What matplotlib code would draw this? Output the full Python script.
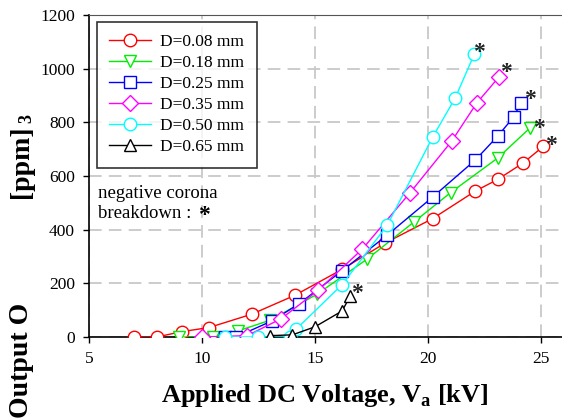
import matplotlib
matplotlib.use("Agg")
import matplotlib.pyplot as plt

plt.rcParams['font.family'] = ['Liberation Serif', 'DejaVu Serif']
plt.rcParams['mathtext.fontset'] = 'custom'
plt.rcParams['mathtext.rm'] = 'Liberation Serif'
plt.rcParams['mathtext.bf'] = 'Liberation Serif:bold'

labels = ["D=0.08 mm", "D=0.18 mm", "D=0.25 mm", "D=0.35 mm", "D=0.50 mm", "D=0.65 mm"]

v_008 = [7.0, 8.0, 9.1, 10.3, 12.2, 14.1, 16.2, 18.1, 20.2, 22.1, 23.1, 24.2, 25.1]
o_008 = [0, 0, 20, 35, 85, 155, 252, 350, 441, 544, 588, 648, 710]

v_018 = [9.0, 10.5, 11.6, 13.0, 15.1, 17.3, 19.4, 21.0, 23.1, 24.5]
o_018 = [0, 0, 23, 62, 160, 290, 430, 538, 668, 778]

v_025 = [11.0, 11.5, 13.1, 14.3, 16.2, 18.2, 20.2, 22.1, 23.1, 23.8, 24.1]
o_025 = [0, 0, 60, 124, 247, 380, 521, 660, 750, 821, 871]

v_035 = [10.0, 12.0, 13.5, 15.15, 17.1, 19.2, 21.05, 22.15, 23.15]
o_035 = [0, 5, 68, 175, 328, 537, 730, 871, 970]

v_050 = [11.0, 12.5, 13.9, 14.15, 16.2, 18.2, 20.2, 21.2, 22.05]
o_050 = [0, 0, 0, 28, 195, 417, 744, 890, 1054]

v_065 = [13.0, 14.0, 15.0, 16.2, 16.55]
o_065 = [5, 8, 38, 97, 151]

series = [(v_008, o_008), (v_018, o_018), (v_025, o_025),
          (v_035, o_035), (v_050, o_050), (v_065, o_065)]
colors = ['#FF0000', '#00EE00', '#0000FF', '#FF00FF', '#00FFFF', '#000000']
markers = ['o', 'v', 's', 'D', 'o', '^']
msizes = [9, 9, 8.5, 8, 9, 9]
star_off = [(5.8, 0.9), (6.5, -0.5), (6.5, 2.4), (5.0, 3.1), (3.6, 0.9), (5.0, 2.4)]

x_ticks = [5, 10, 15, 20, 25]
y_ticks = [0, 200, 400, 600, 800, 1000, 1200]

fig = plt.figure(figsize=(5.62, 4.19), dpi=100)
ax = fig.add_axes([89/562, 1-337/419, 1-89/562, (337-15)/419])

for (vx, vy), c, m, ms, lab in zip(series, colors, markers, msizes, labels):
    ax.plot(vx, vy, color=c, marker=m, markersize=ms, markerfacecolor='white',
            markeredgecolor=c, markeredgewidth=1.0, linewidth=1.0, label=lab,
            zorder=3)

for (vx, vy), off in zip(series, star_off):
    ax.annotate('*', xy=(vx[-1], vy[-1]), xytext=off, textcoords='offset points',
                ha='center', va='center', fontsize=17, fontweight='bold',
                color='#222222', zorder=4)

ax.set_xlim(5, 25.93)
ax.set_ylim(0, 1200)
ax.set_xticks(x_ticks)
ax.set_yticks(y_ticks)
ax.tick_params(direction='out', length=4, width=1, labelsize=12.5, pad=6)
ax.grid(True, color='#c8c8c8', linestyle=(0, (7, 4)), linewidth=1.3, zorder=0)
ax.set_axisbelow(True)
ax.spines['right'].set_visible(False)
ax.spines['top'].set_color('#555555')
for s in ['left', 'bottom']:
    ax.spines[s].set_linewidth(1.2)

leg = ax.legend(loc='upper left', bbox_to_anchor=(8/473, 1-7/322), fontsize=12.5,
                frameon=True, fancybox=False, edgecolor='black', handlelength=2.4,
                labelspacing=0.28, borderpad=0.7, handletextpad=0.55,
                borderaxespad=0)
leg.get_frame().set_linewidth(1.2)

fig.text(98/562, 1-193/419, 'negative corona', fontsize=13.5, va='center', ha='left')
fig.text(98/562, 1-213/419, 'breakdown :', fontsize=13.5, va='center', ha='left')
fig.text(204/562, 1-215/419, '*', fontsize=17, fontweight='bold', ha='center', va='center')

fig.text(325/562, 1-395/419, 'Applied DC Voltage, V$_{\\mathbf{a}}$ [kV]', fontsize=19,
         fontweight='bold', ha='center', va='center')

fig.text(22/562, 1-303/419, 'Output O', rotation=90, fontsize=20, fontweight='bold',
         ha='center', va='top')
fig.text(22/562, 1-126/419, '[ppm]', rotation=90, fontsize=20, fontweight='bold',
         ha='center', va='top')
fig.text(27/562, 1-118/419, '3', rotation=90, fontsize=13, fontweight='bold',
         ha='center', va='center')

fig.savefig('out.png', dpi=100)
